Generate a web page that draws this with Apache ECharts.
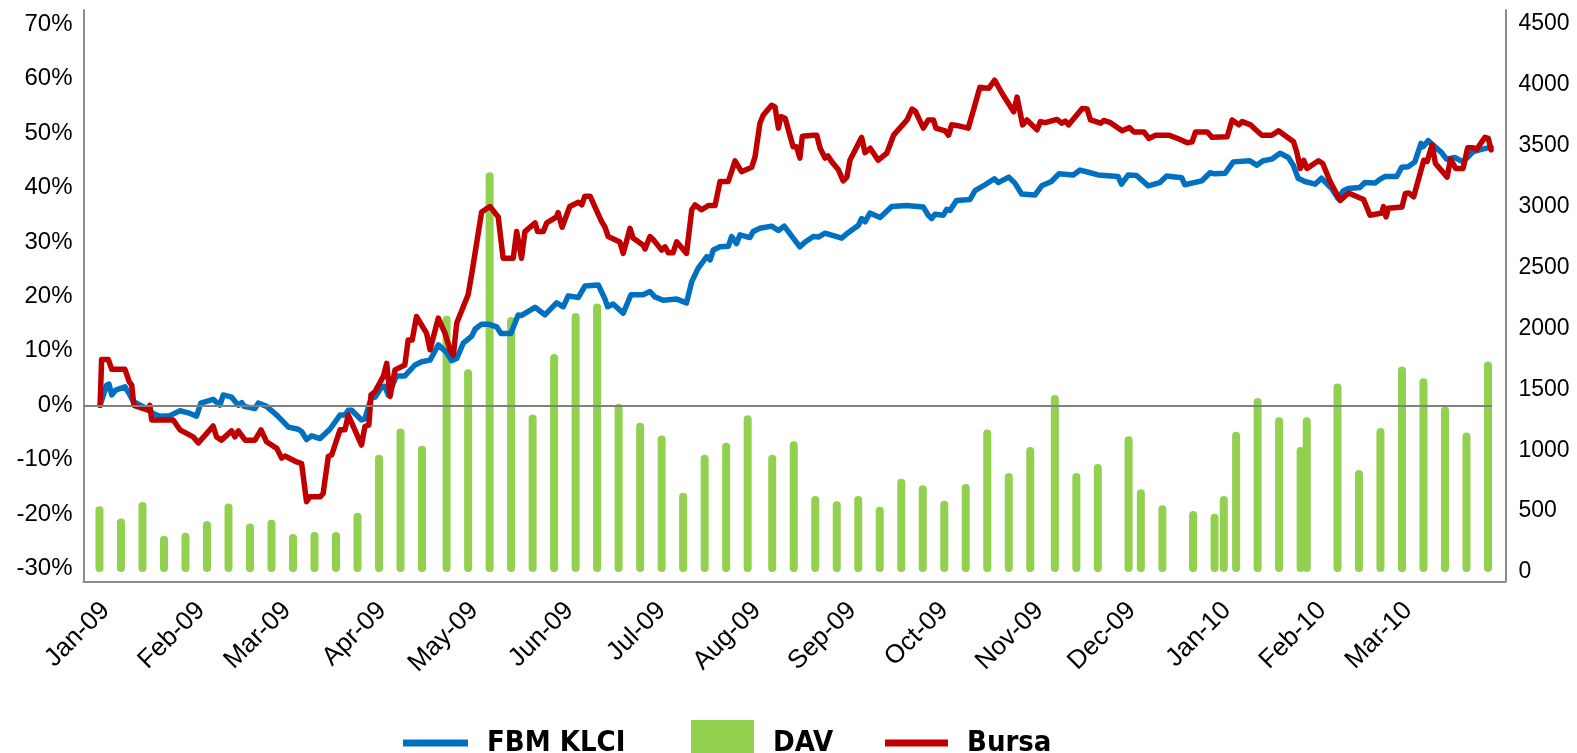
<!DOCTYPE html>
<html>
<head>
<meta charset="utf-8">
<title>FBM KLCI, DAV and Bursa</title>
<script src="https://cdn.jsdelivr.net/npm/echarts@6/dist/echarts.min.js"></script>
<style>
  html, body { margin: 0; padding: 0; background: #fff; }
  #chart { width: 1577px; height: 753px; }
</style>
</head>
<body>
<div id="chart"></div>
<script>
// x positions are days counted from 1 Jan 2009
const klci = [[1.2,0],[3.3,3.7],[4.1,3.9],[5.0,1.9],[6.3,2.8],[9.3,3.4],[10.6,2.2],[12.0,0.7],[16.4,-0.6],[18.5,-1.5],[20.7,-2.0],[23.9,-1.9],[27.2,-1.0],[30.5,-1.5],[32.6,-2.0],[34.0,0.4],[38.0,1.1],[40.2,0],[41.3,1.9],[44.0,1.5],[46.2,0],[47.3,0.5],[48.1,-0.2],[51.6,-0.6],[52.7,0.4],[55.4,-0.2],[58.7,-1.8],[60.8,-3.0],[62.5,-4.0],[65.7,-4.4],[66.8,-4.8],[68.4,-6.3],[70.1,-5.6],[72.8,-6.1],[76.0,-4.4],[79.3,-1.8],[80.9,-1.8],[82.0,-0.9],[83.1,-0.9],[86.3,-2.7],[87.4,-2.5],[89.4,1.3],[90.7,1.5],[92.9,3.4],[93.9,3.5],[95.0,1.9],[97.7,5.4],[100.4,5.4],[103.7,7.4],[105.9,8.0],[108.6,8.3],[111.3,11.1],[114.0,9.7],[115.6,8.2],[117.3,8.6],[119.4,11.4],[122.2,12.7],[123.3,14.0],[125.4,14.9],[127.6,14.9],[130.3,14.4],[131.7,13.2],[134.9,13.2],[137.3,16.6],[138.4,16.5],[142.8,18.0],[146.0,16.6],[149.8,18.8],[152.0,18.1],[153.6,20.1],[156.9,19.8],[159.0,21.9],[163.4,22.1],[165.5,19.6],[166.4,18.1],[168.2,18.6],[171.5,16.9],[174.0,20.3],[178.0,20.3],[180.2,20.9],[181.8,19.9],[184.5,19.3],[188.9,19.5],[192.1,18.8],[193.8,22.7],[195.9,25.2],[198.7,27.3],[199.8,26.7],[200.8,28.5],[203.0,29.1],[205.7,29.2],[206.8,31.0],[208.4,29.7],[209.5,31.3],[212.7,30.8],[213.8,31.9],[216.0,32.5],[219.8,32.9],[222.0,32.1],[223.9,32.9],[229.0,29.1],[230.7,30.0],[233.4,31.0],[235.0,30.9],[237.2,31.6],[242.6,30.7],[244.7,31.7],[248.0,33.0],[249.1,34.3],[250.2,33.7],[251.8,35.3],[255.1,34.5],[258.9,36.5],[263.8,36.7],[265.4,36.6],[269.2,36.4],[270.8,34.9],[271.9,34.3],[273.0,35.1],[275.7,34.9],[276.8,36.0],[277.9,35.8],[280.0,37.6],[284.4,37.8],[286.0,39.4],[289.3,40.5],[292.3,41.6],[293.6,40.9],[297.0,41.9],[299.0,40.8],[301.2,38.8],[305.5,38.6],[307.7,40.3],[310.9,41.1],[313.3,42.5],[318.0,42.3],[320.2,43.2],[322.9,42.8],[326.1,42.3],[332.6,42.0],[333.7,40.6],[335.9,42.3],[338.6,42.2],[342.4,40.3],[346.2,40.9],[348.4,42.1],[353.3,41.8],[354.3,40.5],[359.8,41.2],[362.5,42.7],[364.1,42.5],[367.4,42.6],[370.1,44.7],[375.5,44.9],[377.7,44.1],[379.8,44.9],[382.6,45.2],[385.3,46.3],[388.0,45.5],[389.6,44.1],[391.2,41.7],[393.4,41.1],[396.7,40.6],[398.8,41.7],[402.1,39.8],[404.2,38.0],[405.9,39.4],[407.5,39.8],[411.3,40.0],[412.9,40.9],[416.2,40.8],[417.8,41.5],[419.4,42.0],[423.3,42.0],[424.9,43.7],[427.0,43.8],[429.2,44.7],[431.2,48.1],[431.9,47.5],[433.5,48.6],[437.9,46.4],[439.5,45.2],[442.2,45.5],[444.9,44.7],[448.2,46.6],[450.9,47.0],[454.0,47.4]];

const bursa = [[1.2,0],[1.7,8.4],[3.9,8.4],[5.0,6.6],[9.3,6.6],[10.7,4.3],[11.5,3.7],[12.2,0],[15.3,-0.6],[16.9,-0.9],[17.4,0],[18.0,-2.7],[25.0,-2.7],[27.2,-4.5],[31.5,-5.8],[33.2,-6.9],[38.0,-3.8],[39.1,-5.8],[40.7,-6.4],[44.0,-4.7],[45.1,-5.8],[46.2,-4.7],[48.4,-6.4],[51.6,-6.4],[53.6,-4.5],[55.4,-6.7],[58.7,-7.9],[60.3,-9.7],[61.4,-9.3],[65.2,-10.4],[66.8,-10.7],[68.4,-17.7],[69.5,-16.8],[72.8,-16.8],[73.8,-16.2],[75.5,-9.4],[76.6,-9.1],[79.3,-4.5],[80.9,-4.5],[82.0,-1.8],[86.3,-7.3],[87.4,-3.9],[88.7,-3.6],[89.4,1.9],[90.7,2.5],[93.4,5.3],[94.5,7.7],[95.6,1.6],[97.2,6.5],[100.4,7.4],[101.5,12.0],[102.8,12.0],[104.2,16.3],[107.5,13.2],[108.6,10.2],[111.3,16.0],[113.5,13.2],[115.1,10.2],[116.2,9.2],[117.3,15.1],[121.0,20.3],[122.2,24.2],[125.4,35.5],[128.1,36.5],[130.8,34.6],[132.4,27.0],[135.7,27.0],[136.8,31.9],[138.4,27.0],[139.5,31.9],[142.8,33.5],[143.6,31.9],[145.5,31.9],[146.6,33.5],[149.8,34.6],[150.3,35.4],[151.6,32.7],[154.1,36.5],[156.9,37.3],[158.0,36.8],[159.0,38.4],[160.7,38.4],[164.5,33.7],[165.5,32.8],[166.6,31.0],[170.4,30.0],[171.5,27.9],[173.7,32.5],[174.7,30.7],[178.0,29.4],[178.6,28.7],[180.2,31.0],[181.3,30.4],[184.0,28.5],[185.1,29.1],[186.2,28.0],[187.7,28.0],[188.9,30.0],[190.0,29.3],[192.1,27.9],[193.8,35.9],[194.9,36.8],[197.0,35.9],[199.2,36.7],[201.4,36.7],[203.0,41.1],[205.7,41.1],[207.9,44.9],[210.0,42.9],[213.3,43.7],[214.4,45.6],[216.0,51.8],[217.1,53.3],[219.8,55.1],[220.9,54.8],[222.0,50.9],[222.8,53.0],[224.2,52.7],[226.8,47.5],[227.9,47.5],[229.0,45.4],[229.8,49.4],[233.4,49.6],[234.5,49.6],[235.6,47.2],[237.2,45.4],[238.1,45.8],[239.4,44.7],[241.5,43.3],[243.1,41.2],[244.3,41.9],[245.3,45.0],[247.0,46.9],[249.1,49.2],[250.2,46.4],[251.9,47.2],[254.5,45.0],[257.3,46.3],[259.5,49.6],[263.9,52.4],[265.5,54.4],[266.6,54.0],[269.2,50.9],[270.8,52.4],[272.5,52.4],[273.3,50.9],[276.3,50.4],[277.4,49.6],[278.4,51.5],[280.0,51.4],[283.8,50.9],[285.5,54.2],[287.6,58.4],[290.5,58.2],[292.4,59.7],[294.8,57.3],[298.6,53.9],[299.7,56.6],[301.5,51.5],[302.9,52.4],[306.2,50.6],[307.3,52.1],[308.9,51.9],[312.7,52.5],[314.3,51.8],[315.4,52.2],[316.5,51.5],[320.9,54.5],[322.5,54.4],[323.6,52.4],[326.9,51.8],[327.9,52.3],[330.1,51.9],[333.9,50.4],[336.3,51.0],[337.7,50.2],[341.0,50.2],[342.6,49.0],[344.8,49.6],[349.1,49.6],[352.4,48.9],[355.1,48.2],[356.7,48.4],[357.8,50.2],[361.6,50.2],[363.2,49.2],[368.1,49.3],[369.7,52.4],[371.9,51.5],[373.0,52.1],[375.7,51.5],[377.4,50.6],[379.4,49.6],[382.6,49.6],[384.8,50.4],[389.7,48.4],[390.7,46.6],[391.9,43.5],[393.0,45.0],[394.1,43.5],[397.8,44.9],[399.2,44.4],[401.6,41.1],[404.9,37.6],[407.6,39.0],[412.5,37.8],[414.6,34.9],[418.4,35.3],[419.0,36.5],[419.8,34.6],[420.6,36.2],[425.0,36.4],[426.1,38.9],[427.2,39.0],[428.8,38.3],[432.1,45.0],[433.2,44.8],[434.8,47.8],[435.9,44.4],[439.7,41.9],[440.8,45.2],[442.5,43.5],[444.9,43.5],[446.4,47.3],[448.2,47.3],[449.3,47.0],[452.0,49.2],[453.1,49.0],[454.0,46.9]];

const davDays = [1,8,15,22,29,36,43,50,57,64,71,78,85,92,99,106,114,121,128,135,142,149,156,163,170,177,184,191,198,205,212,220,227,234,241,248,255,262,269,276,283,290,297,304,312,319,326,336,340,347,357,364,367,371,378,385,392,394,404,411,418,425,432,439,446,453];
const davValues = [539,439,574,297,323,418,562,399,430,313,328,328,486,963,1178,1036,2105,1665,3283,2095,1294,1790,2127,2205,1381,1225,1121,650,963,1061,1288,963,1074,624,581,624,536,765,712,586,722,1171,813,1027,1454,813,888,1114,680,549,501,479,624,1152,1429,1272,1027,1272,1548,838,1183,1687,1592,1360,1145,1728];

const monthLabels = ['Jan-09','Feb-09','Mar-09','Apr-09','May-09','Jun-09','Jul-09','Aug-09','Sep-09','Oct-09','Nov-09','Dec-09','Jan-10','Feb-10','Mar-10'];
const pctTicks = [-30,-20,-10,0,10,20,30,40,50,60,70];
const davTicks = [0,500,1000,1500,2000,2500,3000,3500,4000,4500];

const DAY = 86400000;
const T0 = Date.UTC(2009, 0, 1);
// first day of each labelled month, as a day count from 1 Jan 2009
const monthStarts = monthLabels.map((_, i) => Math.round((Date.UTC(2009, i, 1) - T0) / DAY));

const firstDay = -4.2, lastDay = 458.7;
const frameColor = '#8c8c8c';
const labelFont = 'Liberation Sans, Arial, sans-serif';
const legendText = {
  fontFamily: 'DejaVu Sans Condensed, Liberation Sans, sans-serif',
  fontWeight: 'bold', fontSize: 29, color: '#000', padding: [6, 0, 0, 14]
};

let myChart = echarts.init(document.getElementById('chart'));

let option = {
  animation: false,
  grid: { left: 83.5, right: 71.5, top: 10, bottom: 171.7, containLabel: false, outerBoundsMode: 'none' },
  legend: [
    { data: [{ name: 'FBM KLCI', icon: 'rect' }], left: 403, top: 728.5, padding: 0, itemWidth: 65, itemHeight: 7, selectedMode: false, textStyle: legendText },
    { data: [{ name: 'DAV', icon: 'rect' }], left: 691, top: 720, padding: 0, itemWidth: 63, itemHeight: 46, selectedMode: false, textStyle: legendText },
    { data: [{ name: 'Bursa', icon: 'rect' }], left: 885, top: 728.5, padding: 0, itemWidth: 63, itemHeight: 7, selectedMode: false, textStyle: legendText }
  ],
  xAxis: {
    type: 'value',
    min: firstDay,
    max: lastDay,
    axisLine: { show: true, onZero: false, lineStyle: { color: frameColor, width: 2 } },
    axisTick: { show: false },
    splitLine: { show: false },
    axisLabel: {
      customValues: monthStarts,
      formatter: v => monthLabels[monthStarts.indexOf(Math.round(v))] || '',
      rotate: 45, verticalAlign: 'top', margin: 16, fontSize: 26, color: '#000', fontFamily: labelFont, hideOverlap: false
    }
  },
  yAxis: [
    {
      type: 'value', position: 'left', min: -32.32, max: 72.59,
      axisLine: { show: true, onZero: false, lineStyle: { color: frameColor, width: 2 } },
      axisTick: { show: false }, splitLine: { show: false },
      axisLabel: { customValues: pctTicks, formatter: v => v + '%', fontSize: 24, margin: 11, color: '#000', fontFamily: labelFont }
    },
    {
      type: 'value', position: 'right', min: -76.4, max: 4615.8,
      axisLine: { show: true, onZero: false, lineStyle: { color: frameColor, width: 2 } },
      axisTick: { show: false }, splitLine: { show: false },
      axisLabel: { customValues: davTicks, formatter: v => String(v), fontSize: 23, margin: 13, color: '#000', fontFamily: labelFont }
    }
  ],
  series: [
    {
      name: 'FBM KLCI', type: 'line', yAxisIndex: 0, z: 3,
      data: klci,
      showSymbol: false, symbol: 'none',
      itemStyle: { color: '#0070C0' },
      lineStyle: { color: '#0070C0', width: 5.5, cap: 'round', join: 'round' },
      markLine: {
        silent: true, symbol: ['none', 'none'], label: { show: false },
        lineStyle: { color: '#808080', width: 2, type: 'solid' },
        data: [[{ coord: [firstDay, 0] }, { coord: [davDays[davDays.length - 1] + 1.3, 0] }]]
      }
    },
    {
      name: 'DAV', type: 'bar', yAxisIndex: 1, z: 1,
      data: davDays.map((d, i) => [d, davValues[i]]),
      barWidth: 8,
      itemStyle: { color: '#92D050', borderRadius: 4 }
    },
    {
      name: 'Bursa', type: 'line', yAxisIndex: 0, z: 4,
      data: bursa,
      showSymbol: false, symbol: 'none',
      itemStyle: { color: '#C00000' },
      lineStyle: { color: '#C00000', width: 5.5, cap: 'round', join: 'round' }
    }
  ]
};

myChart.setOption(option);
</script>
</body>
</html>
